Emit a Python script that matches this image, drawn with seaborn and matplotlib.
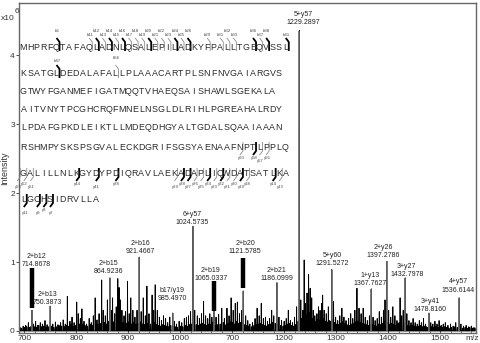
import numpy as np
import pandas as pd
import matplotlib
matplotlib.use('Agg')
import matplotlib.pyplot as plt
import seaborn as sns

# ---- labelled fragment peaks (m/z, intensity in units of 1e6) ----
label_names = ['2+b12', '2+b13', '2+b15', '2+b16', 'b17/y19', '6+y57', '2+b19', '2+b20',
               '2+b21', '5+y57', '5+y60', '1+y13', '2+y26', '3+y27', '3+y41', '4+y57']
label_mz = [714.8678, 750.3873, 864.9236, 921.4667, 985.4970, 1024.5735, 1065.0337, 1121.5785,
            1186.0999, 1229.2897, 1291.5272, 1367.7627, 1397.2786, 1432.7978, 1478.8160, 1536.6144]
label_int = [0.30, 0.36, 0.77, 1.07, 0.26, 1.52, 0.30, 0.58,
             0.70, 4.36, 0.89, 0.61, 1.01, 0.77, 0.26, 0.48]
# where the two-line annotation sits (m/z of centre, intensity of text bottom)
label_x = [723, 744, 862, 923, 984, 1022.5, 1059, 1125,
           1186, 1237, 1292, 1365, 1391, 1436, 1481, 1535]
label_y = [0.91, 0.36, 0.81, 1.10, 0.42, 1.52, 0.71, 1.10,
           0.71, 4.42, 0.93, 0.64, 1.04, 0.77, 0.26, 0.54]

# thick black markers drawn over three of the peaks
bar_mz = [714.8678, 1065.0337, 1121.5785]
bar_lo = [0.33, 0.29, 0.62]
bar_hi = [0.91, 0.72, 1.06]

# ---- unlabelled peaks ----
other_mz = [703, 708, 712, 718, 722, 726, 731, 735, 740, 744, 755, 760,
            765, 770, 775, 779, 783, 788, 792, 796, 801, 804, 808, 811, 815, 820, 825, 829,
            833, 836.5, 840, 844, 849, 852, 856, 860, 868, 870, 874, 877, 880, 882.5, 885,
            888, 892, 895, 898.7, 902, 905, 909, 913, 917, 925, 929, 933, 936, 940, 946,
            949, 952, 956, 960, 964, 968, 972, 976, 980, 989, 993, 998, 1003, 1008, 1012,
            1016, 1020, 1028, 1033, 1037, 1041, 1045, 1049, 1053, 1057, 1061, 1069, 1074,
            1080, 1085, 1090, 1094, 1098, 1102, 1106, 1110, 1114, 1118, 1126, 1130, 1134,
            1139, 1144, 1148, 1152, 1156, 1160, 1164, 1168, 1172, 1176, 1180, 1190, 1195,
            1200, 1204, 1208, 1212, 1216, 1220, 1224, 1232, 1236, 1238.5, 1241, 1244, 1247,
            1250, 1253, 1256, 1259, 1263, 1266, 1269, 1272, 1274, 1277, 1281, 1285, 1295,
            1299, 1303, 1307, 1311, 1315, 1319, 1324, 1328, 1332, 1336, 1340, 1344, 1348,
            1352, 1356, 1360, 1364, 1371, 1375, 1379, 1383, 1387, 1391, 1394, 1401, 1405,
            1409, 1413, 1417, 1423, 1426, 1429, 1436, 1440, 1444, 1448, 1452, 1456, 1460,
            1464, 1468, 1472, 1482, 1486, 1490, 1494, 1498, 1502, 1506, 1510, 1515, 1520,
            1525, 1530, 1540, 1545, 1550, 1555, 1560, 1565]
other_int = [0.08, 0.12, 0.06, 0.10, 0.14, 0.08, 0.12, 0.10, 0.15, 0.09, 0.10, 0.13,
             0.09, 0.12, 0.16, 0.10, 0.50, 0.14, 0.20, 0.12, 0.42, 0.25, 0.18, 0.32, 0.14, 0.10, 0.18, 0.12,
             0.22, 0.48, 0.16, 0.25, 0.74, 0.30, 0.22, 0.45, 0.30, 0.48, 0.25, 0.35, 0.76, 0.63, 0.45,
             0.30, 0.22, 0.28, 0.72, 0.25, 0.48, 0.30, 0.20, 0.30, 0.28, 0.48, 0.22, 0.65, 0.25, 0.52,
             0.30, 0.67, 0.30, 0.20, 0.15, 0.22, 0.18, 0.12, 0.20, 0.14, 0.10, 0.14, 0.12, 0.18, 0.20,
             0.22, 0.28, 0.30, 0.22, 0.18, 0.25, 0.43, 0.22, 0.18, 0.25, 0.20, 0.20, 0.24,
             0.33, 0.18, 0.33, 0.22, 0.48, 0.30, 0.40, 0.42, 0.25, 0.30, 0.22, 0.15, 0.10,
             0.12, 0.18, 0.33, 0.22, 0.40, 0.18, 0.20, 0.14, 0.18, 0.30, 0.22, 0.20, 0.15,
             0.14, 0.18, 0.30, 0.15, 0.12, 0.20, 0.35, 0.45, 0.30, 1.03, 0.40, 0.55, 0.82,
             0.62, 0.48, 0.30, 0.22, 0.25, 0.35, 0.30, 0.40, 0.52, 0.30, 0.25, 0.35, 0.43,
             0.20, 0.15, 0.22, 0.33, 0.20, 0.15, 0.18, 0.25, 0.18, 0.30, 0.62, 0.33, 0.25,
             0.33, 0.20, 0.15, 0.22, 0.20, 0.15, 0.18, 0.28, 0.20, 0.30, 0.45, 0.30, 0.20,
             0.35, 0.22, 0.15, 0.48, 0.22, 0.30, 0.25, 0.15, 0.12, 0.18, 0.12, 0.10, 0.15,
             0.12, 0.18, 0.10, 0.12, 0.10, 0.14, 0.10, 0.15, 0.08, 0.10, 0.12, 0.08, 0.10,
             0.07, 0.12, 0.10, 0.07, 0.08, 0.06, 0.07, 0.05]

# ---- baseline grass ----
grass_mz = [692, 695, 698, 701, 705, 710, 716, 720, 724, 728, 733, 737, 742, 747, 752, 757,
            762, 767, 772, 777, 781, 786, 790, 794, 798, 806, 813, 817, 822, 827, 831, 838,
            842, 846, 854, 858, 862, 866, 872, 879, 886, 890, 897, 900, 907, 911, 915, 919,
            923, 927, 931, 938, 943, 951, 954, 958, 962, 966, 970, 974, 978, 982, 987, 991,
            995, 1000, 1005, 1010, 1014, 1018, 1022, 1026, 1031, 1035, 1039, 1043, 1047, 1051,
            1055, 1059, 1063, 1067, 1072, 1077, 1083, 1088, 1092, 1096, 1100, 1104, 1108, 1112,
            1116, 1120, 1124, 1128, 1132, 1137, 1142, 1146, 1150, 1154, 1158, 1162, 1166, 1170,
            1174, 1178, 1183, 1188, 1193, 1198, 1202, 1206, 1210, 1214, 1218, 1222, 1227, 1234,
            1239.5, 1243, 1246, 1249, 1252, 1255, 1258, 1261, 1265, 1268, 1271, 1276, 1279,
            1283, 1287, 1289, 1293, 1297, 1301, 1305, 1309, 1313, 1317, 1321, 1326, 1330, 1334,
            1338, 1342, 1346, 1350, 1354, 1358, 1362, 1366, 1369, 1373, 1377, 1381, 1385, 1389,
            1393, 1399, 1403, 1407, 1411, 1415, 1419, 1421, 1425, 1431, 1434, 1438, 1442, 1446,
            1450, 1454, 1458, 1462, 1466, 1470, 1474, 1476, 1480, 1484, 1488, 1492, 1496, 1500,
            1504, 1508, 1512, 1517, 1522, 1527, 1533, 1538, 1543, 1548, 1552, 1557, 1562, 1567]
grass_int = [0.05, 0.04, 0.07, 0.05, 0.06, 0.05, 0.07, 0.06, 0.05, 0.08, 0.06, 0.07, 0.05, 0.06, 0.07, 0.05,
             0.06, 0.08, 0.07, 0.06, 0.08, 0.07, 0.09, 0.06, 0.08, 0.10, 0.09, 0.08, 0.07, 0.09, 0.08, 0.10,
             0.09, 0.11, 0.12, 0.10, 0.14, 0.12, 0.13, 0.10, 0.14, 0.12, 0.11, 0.13, 0.10, 0.12, 0.09, 0.11,
             0.13, 0.10, 0.09, 0.11, 0.10, 0.12, 0.09, 0.08, 0.07, 0.09, 0.08, 0.07, 0.06, 0.08, 0.07, 0.06,
             0.05, 0.07, 0.06, 0.08, 0.07, 0.09, 0.10, 0.12, 0.09, 0.08, 0.10, 0.11, 0.09, 0.08,
             0.10, 0.09, 0.12, 0.08, 0.09, 0.10, 0.12, 0.09, 0.11, 0.13, 0.12, 0.10, 0.14, 0.11,
             0.12, 0.13, 0.09, 0.08, 0.07, 0.06, 0.08, 0.09, 0.10, 0.11, 0.09, 0.08, 0.07, 0.09,
             0.10, 0.12, 0.11, 0.09, 0.08, 0.07, 0.08, 0.10, 0.11, 0.08, 0.07, 0.09, 0.14, 0.18,
             0.20, 0.24, 0.22, 0.26, 0.20, 0.18, 0.15, 0.14, 0.16, 0.15, 0.17, 0.18, 0.14,
             0.13, 0.15, 0.14, 0.16, 0.12, 0.10, 0.09, 0.11, 0.13, 0.10, 0.09, 0.08, 0.10, 0.11,
             0.13, 0.14, 0.12, 0.11, 0.10, 0.09, 0.08, 0.10, 0.09, 0.08, 0.07, 0.10, 0.09, 0.11,
             0.13, 0.12, 0.10, 0.11, 0.09, 0.08, 0.10, 0.12, 0.09, 0.11, 0.10, 0.08, 0.07, 0.08,
             0.07, 0.06, 0.07, 0.08, 0.06, 0.07, 0.06, 0.05, 0.07, 0.06, 0.05, 0.06, 0.05, 0.06,
             0.05, 0.06, 0.05, 0.04, 0.05, 0.06, 0.05, 0.05, 0.04, 0.05, 0.04, 0.05, 0.04, 0.04]

x_ticks = [700, 800, 900, 1000, 1100, 1200, 1300, 1400, 1500]
x_ticklabels = ['700', '800', '900', '1000', '700', '1200', '1300', '1400', '1500']
y_ticks = [0, 1, 2, 3, 4]

# ---- protein sequence with observed b / y ion cleavages ----
seq_lines = ['MHPRFQTAFAQLADNLQSALEPILADKYFPALLTGEQVSSL',
             'KSATGLDEDALAFALLPLAAACARTPLSNFNVGAIARGVS',
             'GTWYFGANMEFIGATMQQTVHAEQSAISHAWLSGEKALA',
             'AITVNYTPCGHCRQFMNELNSGLDLRIHLPGREAHALRDY',
             'LPDAFGPKDLEIKTLLMDEQDHGYALTGDALSQAAIAAAN',
             'RSHMPYSKSPSGVALECKDGRIFSGSYAENAAFNPTLPPLQ',
             'GALILLNLKGYDYPDIQRAVLAEKADAPLIQWDATSATLKA',
             'LGCHSIDRVLLA']
b_ions = [6, 11, 12, 13, 14, 15, 16, 17, 18, 19, 20, 21, 22, 23, 24, 25, 26,
          29, 31, 32, 33, 36, 37, 38, 41, 47, 56]
b_bold = [6, 12, 14, 16, 20, 24, 26, 36, 38, 41, 47]
y_ions = [60, 58, 57, 56, 53, 52, 51, 44, 41, 38, 29, 28, 27, 26, 25, 24, 23, 22,
          21, 20, 19, 18, 14, 13, 11, 9, 8, 7]
y_bold = [58, 44, 41, 38, 28, 27, 24, 22, 19, 14, 11, 9, 8, 7]

# ---------------------------------------------------------------------------
sns.set_style('ticks')
plt.rcParams['font.family'] = ['Liberation Sans', 'DejaVu Sans']

W, H = 480, 343
fig = plt.figure(figsize=(W / 100, H / 100), dpi=100)
ax = fig.add_axes([19 / W, 1 - 333 / H, 457 / W, 330 / H])

# spectrum as a stick profile (each peak drawn as a narrow spike on a zero baseline)
peaks = pd.DataFrame({'mz': other_mz + grass_mz + label_mz,
                      'intensity': other_int + grass_int + label_int}).sort_values('mz')
prof = pd.DataFrame({
    'mz': np.column_stack([peaks['mz'] - 0.45, peaks['mz'], peaks['mz'] + 0.45]).ravel(),
    'intensity': np.column_stack([np.zeros(len(peaks)), peaks['intensity'],
                                  np.zeros(len(peaks))]).ravel(),
})
sns.lineplot(data=prof, x='mz', y='intensity', sort=False, estimator=None,
             color='black', lw=0.65, ax=ax)

lab = pd.DataFrame({'mz': label_mz, 'intensity': label_int})
ax.vlines(lab['mz'], 0, lab['intensity'], color='#6e6e6e', lw=1.2, zorder=3)
ax.vlines(bar_mz, bar_lo, bar_hi, color='black', lw=3.2, zorder=4)

for name, mz, tx, ty in zip(label_names, label_mz, label_x, label_y):
    ax.text(tx, ty, f'{name}\n{mz:.4f}', ha='center', va='bottom', fontsize=5.0,
            linespacing=1.25, color='#222222', zorder=5)

ax.set_xlim(690, 1569)
ax.set_ylim(-0.03, 4.76)
ax.set_xticks(x_ticks)
ax.set_xticklabels(x_ticklabels)
ax.set_xticks(np.arange(700, 1561, 20), minor=True)
ax.set_yticks(y_ticks)
ax.set_yticklabels([str(v) for v in y_ticks])
ax.tick_params(axis='x', which='major', direction='in', length=2.5, width=0.6, pad=1.5,
               labelsize=6, colors='#333333')
ax.tick_params(axis='x', which='minor', direction='in', length=1.3, width=0.5, colors='#333333')
ax.tick_params(axis='y', direction='out', length=2, width=0.6, pad=1, labelsize=6,
               colors='#333333')
ax.set_xlabel('')
ax.set_ylabel('Intensity', fontsize=6.4, labelpad=1, color='#333333')
ax.text(0.992, -0.006, 'm/z', transform=ax.transAxes, ha='center', va='top',
        fontsize=6, color='#333333')
for s in ax.spines.values():
    s.set_color('#666666')
    s.set_linewidth(1.0)

fig.text(0.5 / W, 1 - 22 / H, 'x10', fontsize=6, color='#333333', ha='left', va='bottom')
fig.text(14.5 / W, 1 - 15 / H, '6', fontsize=6, color='#333333', ha='left', va='bottom')

# ---- sequence overlay in pixel coordinates ----
ov = fig.add_axes([0, 0, 1, 1], facecolor='none')
ov.set_xlim(0, W)
ov.set_ylim(H, 0)
ov.axis('off')

x0, step = 23.5, 6.55
line_y = [47, 74, 92, 110, 128, 147, 173, 199]
starts = np.cumsum([0] + [len(s) for s in seq_lines])
total = starts[-1]


def locate(idx):
    line = int(np.searchsorted(starts, idx, side='right') - 1)
    return line, idx - starts[line]


for li, s in enumerate(seq_lines):
    for ci, ch in enumerate(s):
        ov.text(x0 + ci * step, line_y[li], ch, ha='center', va='center', fontsize=6.4,
                color='#2a2a2a')

for n in b_ions:
    li, pos = locate(n - 1)
    x = x0 + pos * step + step / 2
    y = line_y[li]
    bold = n in b_bold
    ov.plot([x - 3, x, x], [y - 9, y - 5, y + 4], color='black' if bold else '#8a8a8a',
            lw=1.3 if bold else 0.6, solid_capstyle='butt')
    ov.text(x - 2.5, y - (14 if n % 2 == 0 else 10.5), f'b{n}', ha='center', va='bottom',
            fontsize=3.1, color='#444444')

for n in y_ions:
    li, pos = locate(total - n)
    x = x0 + pos * step - step / 2
    y = line_y[li]
    bold = n in y_bold
    ov.plot([x, x, x - 3], [y - 5, y + 4, y + 8], color='black' if bold else '#8a8a8a',
            lw=1.3 if bold else 0.6, solid_capstyle='butt')
    ov.text(x - 2, y + (9 if n % 2 == 0 else 12), f'y{n}', ha='center', va='top',
            fontsize=3.1, color='#444444')

fig.savefig('out.png', dpi=100)
